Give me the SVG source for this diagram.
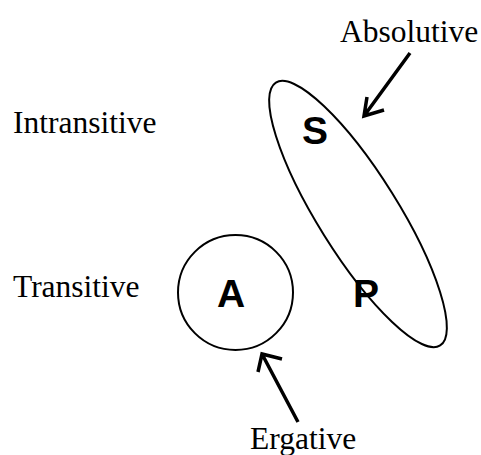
<svg xmlns="http://www.w3.org/2000/svg" width="481" height="455" viewBox="0 0 481 455">
<style>
.lbl{font-family:"Liberation Serif","Times New Roman",serif;font-size:31.5px;fill:#000}
.big{font-family:"Liberation Sans",Arial,sans-serif;font-size:39px;font-weight:bold;fill:#000;text-anchor:middle}
.shape{fill:none;stroke:#000;stroke-width:2}
.arr{fill:none;stroke:#000;stroke-width:3.5;stroke-linecap:butt}
</style>
<rect width="481" height="455" fill="#fff"/>
<g id="intransitive"><text class="lbl" x="13" y="133">Intransitive</text></g>
<g id="transitive"><text class="lbl" x="13" y="297">Transitive</text></g>
<g id="absolutive"><text class="lbl" x="340" y="42">Absolutive</text></g>
<g id="ergative"><text class="lbl" x="250" y="449">Ergative</text></g>
<g id="sp-group">
<ellipse class="shape" cx="358" cy="214" rx="155" ry="40" transform="rotate(58 358 214)"/>
<text class="big" x="315" y="144">S</text>
<text class="big" x="366" y="307">P</text>
</g>
<g id="a-group">
<circle class="shape" cx="235.5" cy="292.5" r="57.5"/>
<text class="big" x="231" y="307">A</text>
</g>
<g id="connectors">
<path class="arr" d="M410 53 L364 116 M367 97 L364 116 L384 110"/>
<path class="arr" d="M298 422 L262 354 M258 372 L262 354 L282 359"/>
</g>
</svg>
